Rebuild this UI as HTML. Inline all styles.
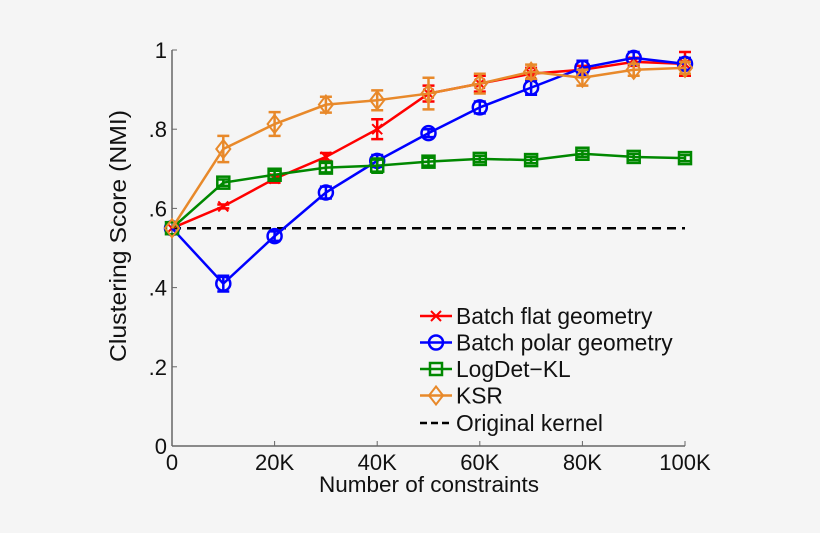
<!DOCTYPE html><html><head><style>body{margin:0;background:#f5f5f5}svg{display:block}text{font-family:"Liberation Sans",sans-serif;fill:#111}</style></head><body>
<svg id="s" width="820" height="533" xmlns="http://www.w3.org/2000/svg"><rect width="820" height="533" fill="#f5f5f5"/></svg>
<script>
const s=document.getElementById('s');let h='';
const X=k=>172+k*51.3, Y=v=>446-396*v;
h+=`<line x1="172" y1="50" x2="172" y2="446" stroke="#666" stroke-width="1.5"/><line x1="172" y1="446" x2="685" y2="446" stroke="#666" stroke-width="1.5"/>`;
[0,0.2,0.4,0.6,0.8,1].forEach(v=>{h+=`<line x1="172" y1="${Y(v)}" x2="177" y2="${Y(v)}" stroke="#666"/><text x="167" y="${Y(v)+8}" font-size="22" text-anchor="end">${v===0?'0':v===1?'1':String(v).slice(1)}</text>`});
['0','20K','40K','60K','80K','100K'].forEach((t,i)=>{const x=X(i*2);h+=`<line x1="${x}" y1="446" x2="${x}" y2="441" stroke="#666"/><text x="${x}" y="470" font-size="22" text-anchor="middle">${t}</text>`});
h+=`<text x="429" y="492" font-size="22.5" text-anchor="middle">Number of constraints</text><text transform="translate(126,236) rotate(-90)" font-size="23" text-anchor="middle" textLength="252" lengthAdjust="spacingAndGlyphs">Clustering Score (NMI)</text>`;
h+=`<line x1="172" y1="${Y(.55)}" x2="685" y2="${Y(.55)}" stroke="#000" stroke-width="2.5" stroke-dasharray="9,6"/>`;
const S=[
['#f00','x',[.55,.605,.675,.73,.80,.89,.915,.94,.95,.97,.965],[0,.005,.01,.01,.025,.02,.02,.015,.01,.01,.03]],
['#00f','o',[.55,.41,.53,.64,.72,.79,.855,.905,.955,.98,.965],[0,.02,.012,.015,.015,.01,.015,.018,.018,.015,.015]],
['#080','s',[.55,.665,.685,.703,.708,.718,.725,.722,.738,.73,.727],[0,.008,.01,.012,.018,.01,.008,.008,.008,.008,.008]],
['#e8892a','d',[.55,.75,.813,.862,.873,.89,.915,.945,.93,.95,.955],[0,.033,.03,.02,.025,.04,.025,.018,.02,.015,.015]]];
function mk(c,m,x,y){if(m=='x')return `<path d="M${x-5} ${y-5}L${x+5} ${y+5}M${x-5} ${y+5}L${x+5} ${y-5}" stroke="${c}" stroke-width="2"/>`;
if(m=='o')return `<circle cx="${x}" cy="${y}" r="7" fill="none" stroke="${c}" stroke-width="2.5"/>`;
if(m=='s')return `<rect x="${x-6}" y="${y-6}" width="12" height="12" fill="none" stroke="${c}" stroke-width="2.5"/>`;
return `<path d="M${x} ${y-9}L${x+7} ${y}L${x} ${y+9}L${x-7} ${y}Z" fill="none" stroke="${c}" stroke-width="2"/>`;}
S.forEach(([c,m,d,e])=>{h+=`<polyline points="${d.map((v,i)=>X(i)+','+Y(v)).join(' ')}" fill="none" stroke="${c}" stroke-width="2.5"/>`;
d.forEach((v,i)=>{const x=X(i),y1=Y(v+e[i]),y2=Y(v-e[i]);if(e[i])h+=`<path d="M${x} ${y1}V${y2}M${x-6} ${y1}H${x+6}M${x-6} ${y2}H${x+6}" stroke="${c}" stroke-width="2.5"/>`;h+=mk(c,m,x,Y(v));});});
const L=[['#f00','x','Batch flat geometry'],['#00f','o','Batch polar geometry'],['#080','s','LogDet−KL'],['#e8892a','d','KSR']];
L.forEach(([c,m,t],i)=>{const y=316+i*26.5;h+=`<line x1="420" y1="${y}" x2="452" y2="${y}" stroke="${c}" stroke-width="2.5"/>`+mk(c,m,436,y)+`<text x="456" y="${y+8}" font-size="22.8">${t}</text>`});
h+=`<line x1="420" y1="423" x2="452" y2="423" stroke="#000" stroke-width="2.5" stroke-dasharray="7,4"/><text x="456" y="431" font-size="22.8">Original kernel</text>`;
s.innerHTML+=h;
</script></body></html>
